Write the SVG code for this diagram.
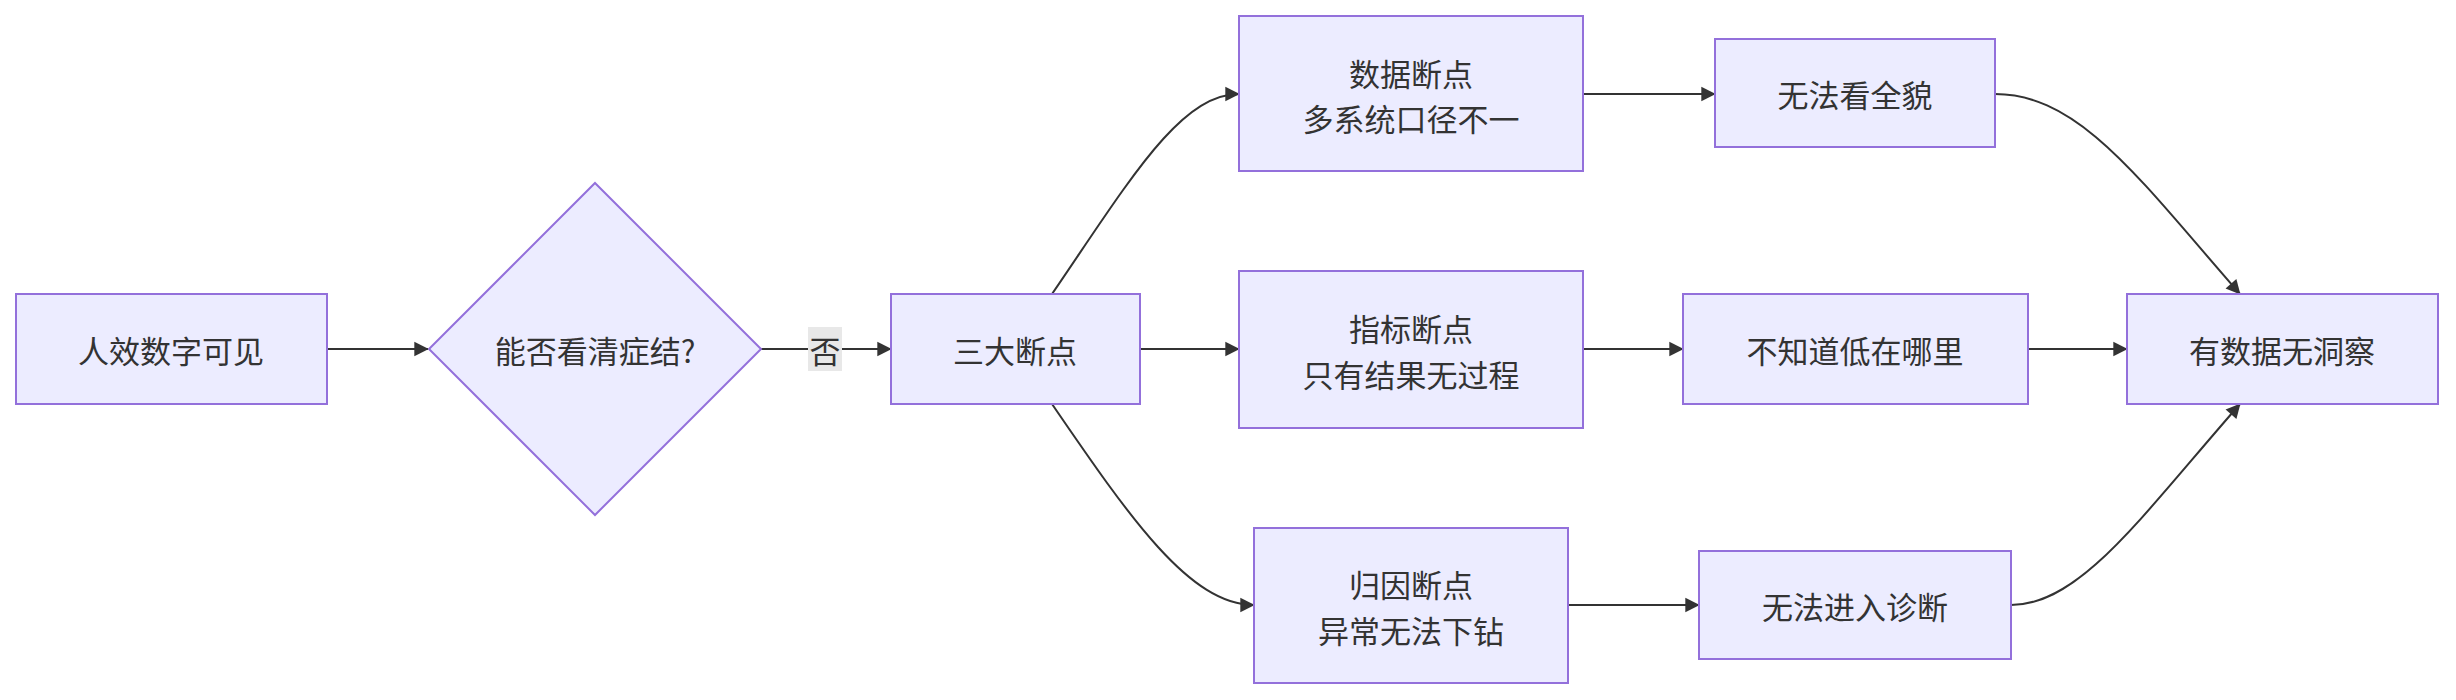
<svg xmlns="http://www.w3.org/2000/svg" width="2456" height="700" viewBox="0 0 2456 700">
<style>
.n{fill:#ECECFF;stroke:#9370DB;stroke-width:2}
.t{font-family:"Noto Sans CJK SC","Liberation Sans",sans-serif;font-size:31px;fill:#333;text-anchor:middle;dominant-baseline:central}
.e{fill:none;stroke:#333;stroke-width:2;marker-end:url(#a)}
</style>
<defs><marker id="a" viewBox="0 0 10 10" refX="9" refY="5" markerWidth="8" markerHeight="8" orient="auto" markerUnits="userSpaceOnUse" style="overflow:visible"><path d="M0,0L10,5L0,10z" fill="#333" transform="scale(1.8) translate(-4.5,-2.2)"/></marker></defs>
<rect width="2456" height="700" fill="#fff"/>
<g id="edges">
<path class="e" d="M327,349H428"/>
<path class="e" d="M761,349H891"/>
<path class="e" d="M1052,294C1130,180 1180,94 1239,94"/>
<path class="e" d="M1140,349H1239"/>
<path class="e" d="M1052,404C1130,518 1190,605 1254,605"/>
<path class="e" d="M1583,94H1715"/>
<path class="e" d="M1583,349H1683"/>
<path class="e" d="M1568,605H1699"/>
<path class="e" d="M1995,94C2080,94 2140,180 2240,294"/>
<path class="e" d="M2028,349H2127"/>
<path class="e" d="M2011,605C2080,605 2140,518 2240,404"/>
<rect x="808" y="327" width="34" height="44" fill="#e8e8e8"/>
<text class="t" x="825" y="349">否</text>
</g>
<g id="n1"><rect class="n" x="16" y="294" width="311" height="110"/><text class="t" x="171" y="349">人效数字可见</text></g>
<g id="n2"><polygon class="n" points="595,183 761,349 595,515 429,349"/><text class="t" x="595" y="349">能否看清症结?</text></g>
<g id="n3"><rect class="n" x="891" y="294" width="249" height="110"/><text class="t" x="1015" y="349">三大断点</text></g>
<g id="n4"><rect class="n" x="1239" y="16" width="344" height="155"/><text class="t" x="1411" y="72">数据断点</text><text class="t" x="1411" y="117">多系统口径不一</text></g>
<g id="n5"><rect class="n" x="1239" y="271" width="344" height="157"/><text class="t" x="1411" y="327">指标断点</text><text class="t" x="1411" y="373">只有结果无过程</text></g>
<g id="n6"><rect class="n" x="1254" y="528" width="314" height="155"/><text class="t" x="1411" y="583">归因断点</text><text class="t" x="1411" y="629">异常无法下钻</text></g>
<g id="n7"><rect class="n" x="1715" y="39" width="280" height="108"/><text class="t" x="1855" y="93">无法看全貌</text></g>
<g id="n8"><rect class="n" x="1683" y="294" width="345" height="110"/><text class="t" x="1855" y="349">不知道低在哪里</text></g>
<g id="n9"><rect class="n" x="1699" y="551" width="312" height="108"/><text class="t" x="1855" y="605">无法进入诊断</text></g>
<g id="n10"><rect class="n" x="2127" y="294" width="311" height="110"/><text class="t" x="2282" y="349">有数据无洞察</text></g>
</svg>
